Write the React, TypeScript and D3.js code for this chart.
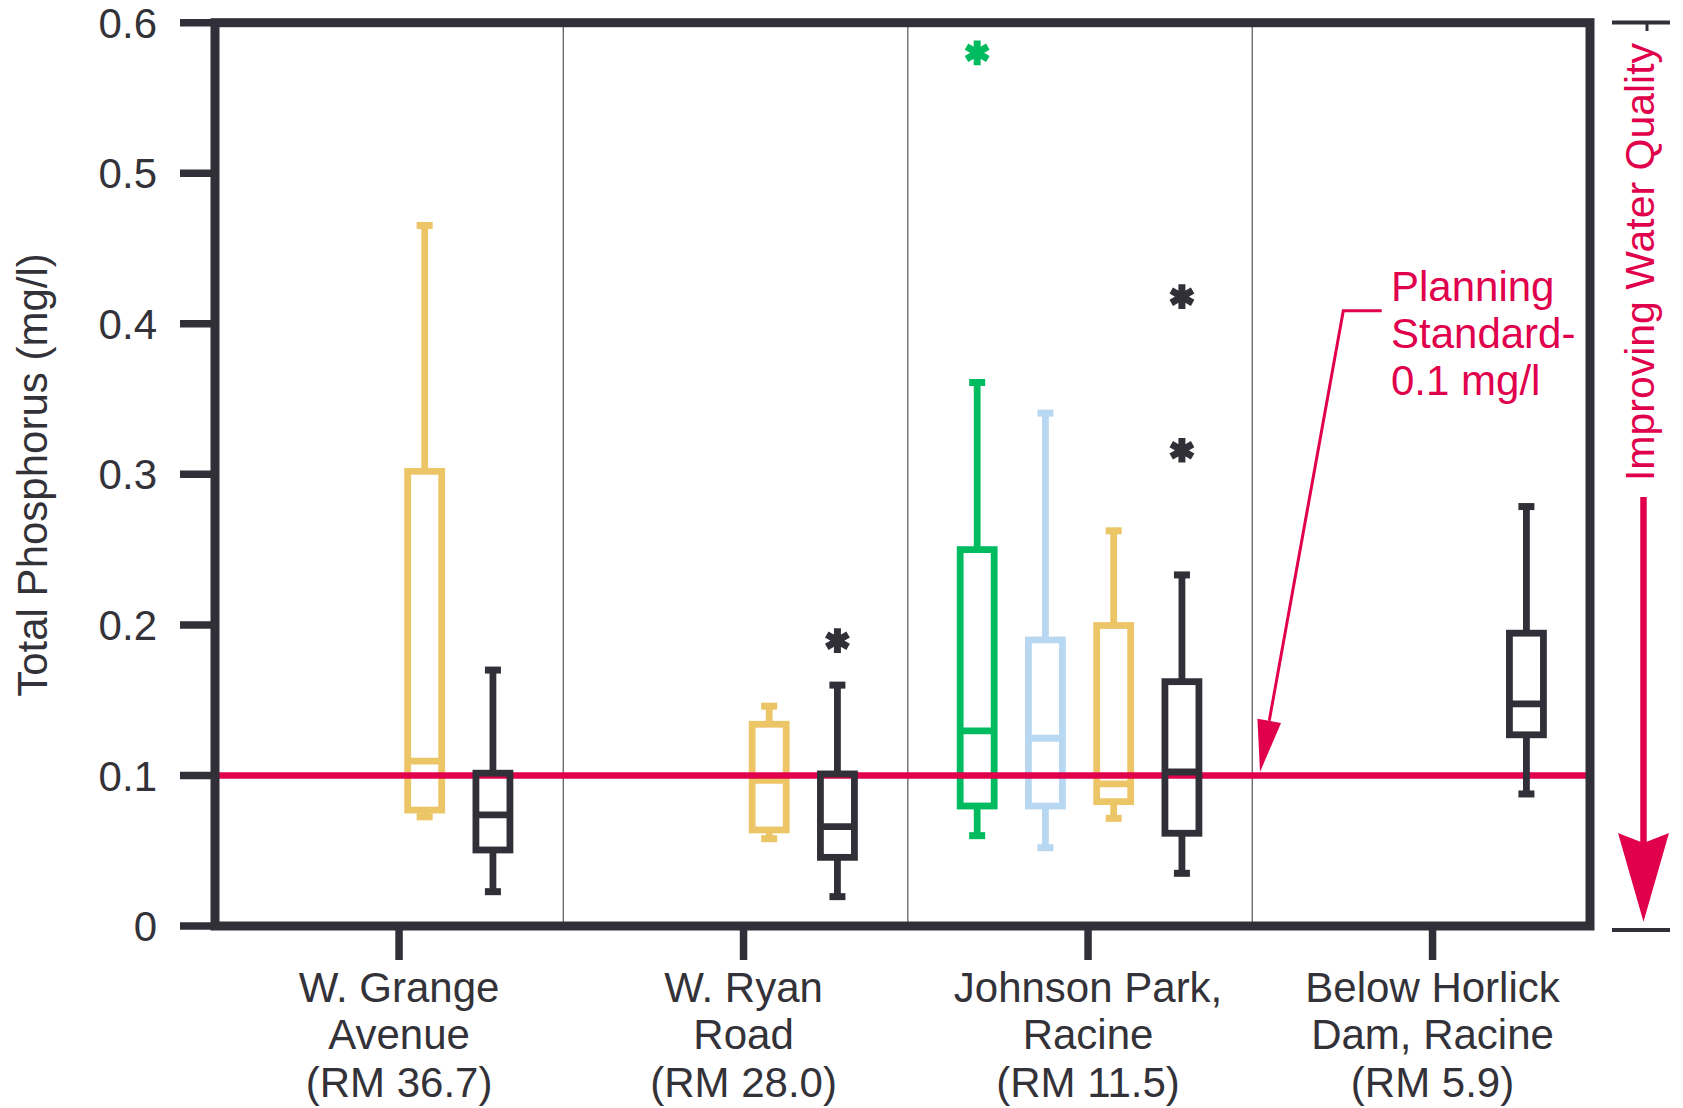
import React from "react";
import * as d3 from "d3";

// ---------- data ----------
const categories = [
  "W. Grange Avenue (RM 36.7)",
  "W. Ryan Road (RM 28.0)",
  "Johnson Park, Racine (RM 11.5)",
  "Below Horlick Dam, Racine (RM 5.9)",
];
const categoryLabelLines = [
  ["W. Grange", "Avenue", "(RM 36.7)"],
  ["W. Ryan", "Road", "(RM 28.0)"],
  ["Johnson Park,", "Racine", "(RM 11.5)"],
  ["Below Horlick", "Dam, Racine", "(RM 5.9)"],
];
const seriesKeys = ["green", "blue", "yellow", "black"];
const seriesColors = ["#00bb5f", "#b8d7f1", "#ecc567", "#312f38"];

// [low whisker, Q1, median, Q3, high whisker] per category (null = no data)
const greenStats = [null, null, [0.06, 0.0797, 0.1296, 0.25, 0.361], null];
const blueStats = [null, null, [0.052, 0.0797, 0.1247, 0.19, 0.3407], null];
const yellowStats = [
  [0.0725, 0.077, 0.1095, 0.302, 0.4653],
  [0.058, 0.0638, 0.0968, 0.134, 0.146],
  [0.0715, 0.0826, 0.0944, 0.1996, 0.2625],
  null,
];
const blackStats = [
  [0.0228, 0.0505, 0.0738, 0.1015, 0.17],
  [0.0195, 0.0456, 0.066, 0.101, 0.16],
  [0.035, 0.0616, 0.1023, 0.1623, 0.2332],
  [0.0877, 0.127, 0.1475, 0.1945, 0.2786],
];
const greenOutliers = [[], [], [0.58], []];
const blueOutliers = [[], [], [], []];
const yellowOutliers = [[], [], [], []];
const blackOutliers = [[], [0.1895], [0.418, 0.316], []];

const yTicks = [0, 0.1, 0.2, 0.3, 0.4, 0.5, 0.6];
const yTickLabels = ["0", "0.1", "0.2", "0.3", "0.4", "0.5", "0.6"];
const planningStandard = 0.1;
const yTitle = "Total Phosphorus (mg/l)";
const planningLines = ["Planning", "Standard-", "0.1 mg/l"];
const qualityLabel = "Improving Water Quality";

// ---------- styles ----------
const FONT = "'Liberation Sans', Arial, Helvetica, sans-serif";
const DARK = "#312f38";
const TEXT = "#333238";
const RED = "#e0004b";

export default function App() {
  const W = 1683;
  const H = 1108;
  const frame = { left: 215, right: 1590, top: 22.7, bottom: 926 };

  const y = d3.scaleLinear().domain([0, 0.6]).range([frame.bottom, frame.top]);
  const band = d3.scaleBand<string>().domain(categories).range([218.8, 1596.8]);
  const tickX = (c: string) => (band(c) as number) + band.bandwidth() / 2 + 8;
  const slot = d3.scaleBand<string>().domain(seriesKeys).range([-145, 128]);
  const slotX = (k: string) => (slot(k) as number) + slot.bandwidth() / 2;

  const statsBySeries = [greenStats, blueStats, yellowStats, blackStats];
  const outliersBySeries = [greenOutliers, blueOutliers, yellowOutliers, blackOutliers];
  const series = seriesKeys.map((k, i) => ({
    key: k,
    color: seriesColors[i],
    stats: statsBySeries[i],
    outliers: outliersBySeries[i],
  }));

  const boxW = 34;
  const sw = 6.8;
  const capW = 16;
  const capH = 7;
  const star = d3.symbol().type(d3.symbolAsterisk).size(430)();

  const renderSeries = (s: any) =>
    categories.map((c, ci) => {
      const st = s.stats[ci];
      const cx = tickX(c) + slotX(s.key);
      const out = s.outliers[ci] as number[];
      return (
        <g key={s.key + ci}>
          {st && (
            <g>
              <line x1={cx} x2={cx} y1={y(st[3])} y2={y(st[4])} stroke={s.color} strokeWidth={sw} />
              <line x1={cx} x2={cx} y1={y(st[1])} y2={y(st[0])} stroke={s.color} strokeWidth={sw} />
              <rect x={cx - capW / 2} y={y(st[4]) - capH / 2} width={capW} height={capH} fill={s.color} />
              <rect x={cx - capW / 2} y={y(st[0]) - capH / 2} width={capW} height={capH} fill={s.color} />
              <rect
                x={cx - boxW / 2}
                y={y(st[3])}
                width={boxW}
                height={y(st[1]) - y(st[3])}
                fill="none"
                stroke={s.color}
                strokeWidth={sw}
              />
              <line x1={cx - boxW / 2} x2={cx + boxW / 2} y1={y(st[2])} y2={y(st[2])} stroke={s.color} strokeWidth={sw} />
            </g>
          )}
          {out.map((v, oi) => (
            <path
              key={oi}
              d={star as string}
              transform={`translate(${cx},${y(v)})`}
              fill="none"
              stroke={s.color}
              strokeWidth={7}
            />
          ))}
        </g>
      );
    });

  // dividers between category bands
  const dividers = categories.slice(1).map((c) => band(c) as number);

  // planning-standard leader arrow
  const leaderStart: [number, number] = [1381.7, 310.7];
  const leaderElbow: [number, number] = [1343.3, 310.7];
  const tip: [number, number] = [1260, y(planningStandard) - 3.5];
  const dx = tip[0] - leaderElbow[0];
  const dy = tip[1] - leaderElbow[1];
  const len = Math.hypot(dx, dy);
  const ux = dx / len;
  const uy = dy / len;
  const headL = 52;
  const headW = 24;
  const bx = tip[0] - ux * headL;
  const by = tip[1] - uy * headL;
  const headPts = [
    [tip[0], tip[1]],
    [bx - uy * headW / 2, by + ux * headW / 2],
    [bx + uy * headW / 2, by - ux * headW / 2],
  ];

  const qx = 1643.5;

  return (
    <svg
      width={W}
      height={H}
      viewBox={`0 0 ${W} ${H}`}
      style={{ position: "absolute", left: 0, top: 0, display: "block", background: "#fff" }}
      fontFamily={FONT}
    >
      <rect x={0} y={0} width={W} height={H} fill="#fff" />

      {/* dividers */}
      {dividers.map((d, i) => (
        <line key={i} x1={d} x2={d} y1={frame.top} y2={frame.bottom} stroke="#6e6e72" strokeWidth={1.4} />
      ))}

      {/* coloured series */}
      {series.filter((s) => s.key !== "black").map(renderSeries)}

      {/* planning standard line */}
      <line
        x1={frame.left}
        x2={frame.right}
        y1={y(planningStandard)}
        y2={y(planningStandard)}
        stroke={RED}
        strokeWidth={6.5}
      />

      {series.filter((s) => s.key === "black").map(renderSeries)}

      {/* frame */}
      <rect
        x={frame.left}
        y={frame.top}
        width={frame.right - frame.left}
        height={frame.bottom - frame.top}
        fill="none"
        stroke={DARK}
        strokeWidth={9}
      />

      {/* y ticks */}
      {yTicks.map((t, i) => (
        <g key={t}>
          <line x1={180} x2={frame.left} y1={y(t)} y2={y(t)} stroke={DARK} strokeWidth={7.5} />
          <text x={157} y={y(t)} dy="0.36em" textAnchor="end" fontSize={42} fill={TEXT}>
            {yTickLabels[i]}
          </text>
        </g>
      ))}

      {/* y title */}
      <text
        transform={`translate(47,475) rotate(-90)`}
        textAnchor="middle"
        fontSize={42}
        fill={TEXT}
      >
        {yTitle}
      </text>

      {/* category ticks and labels */}
      {categories.map((c, ci) => (
        <g key={c}>
          <line x1={tickX(c)} x2={tickX(c)} y1={frame.bottom} y2={960} stroke={DARK} strokeWidth={7.5} />
          {categoryLabelLines[ci].map((ln, li) => (
            <text key={li} x={tickX(c)} y={1001.5 + li * 47.7} textAnchor="middle" fontSize={42} fill={TEXT}>
              {ln}
            </text>
          ))}
        </g>
      ))}

      {/* planning standard annotation */}
      <polyline
        points={`${leaderStart.join(",")} ${leaderElbow.join(",")} ${bx},${by}`}
        fill="none"
        stroke={RED}
        strokeWidth={3}
      />
      <polygon points={headPts.map((p) => p.join(",")).join(" ")} fill={RED} />
      {planningLines.map((ln, i) => (
        <text key={i} x={1391} y={300.5 + i * 47} fontSize={42} fill={RED}>
          {ln}
        </text>
      ))}

      {/* improving water quality indicator */}
      <line x1={1612} x2={1670} y1={22.5} y2={22.5} stroke={DARK} strokeWidth={4} />
      <line x1={1612} x2={1670} y1={930} y2={930} stroke={DARK} strokeWidth={4} />
      <line x1={1647} x2={1647} y1={22} y2={31} stroke={DARK} strokeWidth={3} />
      <text
        transform={`translate(1654,262) rotate(-90)`}
        textAnchor="middle"
        fontSize={41}
        fill={RED}
      >
        {qualityLabel}
      </text>
      <line x1={qx} x2={qx} y1={497} y2={850} stroke={RED} strokeWidth={6.5} />
      <polygon
        points={`${qx - 25.5},833 ${qx},843 ${qx + 25.5},833 ${qx},921.7`}
        fill={RED}
      />
    </svg>
  );
}
